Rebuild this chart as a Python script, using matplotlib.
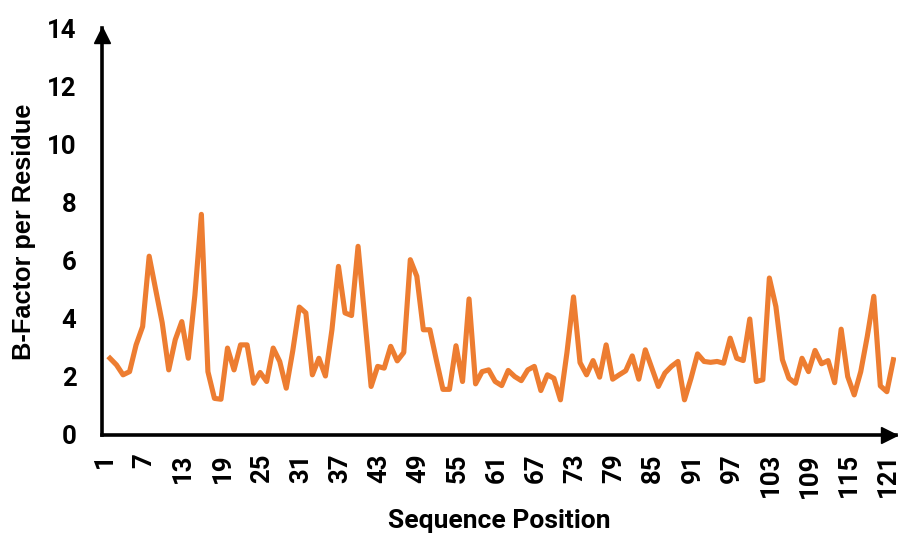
import matplotlib
matplotlib.use("Agg")
import matplotlib.pyplot as plt
import matplotlib.transforms as mtransforms

# B-factor per residue (residues 1..121)
bfactor = [2.64, 2.41, 2.07, 2.18, 3.10, 3.73, 6.15, 5.00, 3.86, 2.24,
           3.28, 3.90, 2.64, 4.80, 7.59, 2.18, 1.26, 1.23, 2.99, 2.24,
           3.10, 3.10, 1.78, 2.15, 1.84, 2.99, 2.53, 1.61, 2.90, 4.40,
           4.20, 2.07, 2.64, 2.03, 3.62, 5.80, 4.20, 4.11, 6.49, 4.08,
           1.67, 2.36, 2.30, 3.05, 2.55, 2.84, 6.03, 5.46, 3.62, 3.62,
           2.57, 1.57, 1.57, 3.07, 1.84, 4.68, 1.76, 2.18, 2.24, 1.84,
           1.70, 2.22, 2.01, 1.87, 2.24, 2.36, 1.53, 2.07, 1.95, 1.21,
           2.84, 4.75, 2.49, 2.07, 2.56, 1.99, 3.10, 1.92, 2.07, 2.21,
           2.72, 1.92, 2.93, 2.30, 1.67, 2.13, 2.36, 2.53, 1.21, 1.95,
           2.79, 2.53, 2.50, 2.53, 2.47, 3.33, 2.64, 2.56, 3.99, 1.84,
           1.90, 5.40, 4.42, 2.59, 1.95, 1.78, 2.64, 2.18, 2.91, 2.45,
           2.56, 1.80, 3.64, 2.01, 1.38, 2.18, 3.39, 4.77, 1.69, 1.49,
           2.59]
residues = list(range(1, len(bfactor) + 1))
xticks = list(range(1, 122, 6))
yticks = list(range(0, 15, 2))

plt.rcParams['font.family'] = ['Roboto', 'DejaVu Sans']

fig = plt.figure(figsize=(9, 5.38), dpi=100)
ax = fig.add_axes([101.5/900, 1 - 435/538, (896 - 101.5)/900, (435 - 28)/538])

ax.plot(residues, bfactor, color='#ED7D31', lw=3.7, solid_joinstyle='round')

ax.set_xlim(-0.3, 121.4)
ax.set_ylim(0, 14)
ax.set_xticks(xticks)
ax.set_xticklabels([str(t) for t in xticks], rotation=90, fontsize=18.5, fontweight='bold')
ax.set_yticks(yticks)
ax.set_yticklabels([str(t) for t in yticks], fontsize=18.5, fontweight='bold')
ax.tick_params(axis='x', length=0, pad=13)
ax.tick_params(axis='y', length=0, pad=18)

# labels sit a little left of the points in the original
shift = mtransforms.ScaledTranslation(-0.05, 0, fig.dpi_scale_trans)
for lbl in ax.get_xticklabels():
    lbl.set_transform(lbl.get_transform() + shift)

for s in ['top', 'right']:
    ax.spines[s].set_visible(False)
for s in ['left', 'bottom']:
    ax.spines[s].set_linewidth(2.6)
    ax.spines[s].set_capstyle('projecting')

# arrow heads at the axis ends, tips on the axis ends
up = mtransforms.ScaledTranslation(0, -0.075, fig.dpi_scale_trans)
right = mtransforms.ScaledTranslation(-0.075, 0, fig.dpi_scale_trans)
ax.plot(1, 0, '>k', ms=11, transform=ax.transAxes + right, clip_on=False)
ax.plot(0, 1, '^k', ms=11, transform=ax.transAxes + up, clip_on=False)

ax.set_xlabel('Sequence Position', fontsize=19, fontweight='bold', labelpad=8)
ax.set_ylabel('B-Factor per Residue', fontsize=18.3, fontweight='bold',
              family=['Liberation Sans', 'DejaVu Sans'], labelpad=8)

fig.savefig('out.png', dpi=100)
